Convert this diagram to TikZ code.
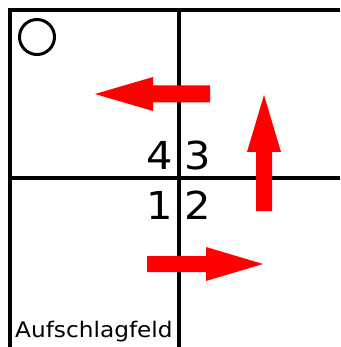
\documentclass[tikz,border=0pt]{standalone}
\usepackage{fontspec}
\setmainfont{DejaVu Sans}[FakeStretch=1.08]
\begin{document}
\begin{tikzpicture}[x=1pt,y=-1pt,
  outer/.style={line width=3.8pt},
  inner/.style={line width=3.2pt},
  redarrow/.style={fill=red,draw=none},
  digit/.style={inner sep=0pt,font=\fontsize{38.5}{38.5}\selectfont},
  label/.style={inner sep=0pt,font=\fontsize{21.5}{21.5}\selectfont}]
\useasboundingbox (0,0) rectangle (340,347);
% grid
\draw[outer] (340,10) -- (10,10) -- (10,347);
\draw[inner] (179,10) -- (179,347);
\draw[inner] (10,178) -- (340,178);
% ball
\draw[line width=3pt] (37,37) circle (17.5);
% arrows
\fill[redarrow] (210,85.5) -- (153,85.5) -- (153,77) -- (95,94) -- (153,111) -- (153,102.5) -- (210,102.5) -- cycle;
\fill[redarrow] (256,211) -- (256,152) -- (247,152) -- (264,95) -- (281,152) -- (272,152) -- (272,211) -- cycle;
\fill[redarrow] (147,256) -- (206,256) -- (206,247) -- (263,264) -- (206,281) -- (206,272) -- (147,272) -- cycle;
% numbers
\node[digit,anchor=base east] (n4) at (173,170) {4};
\node[digit,anchor=base west] (n3) at (184,170) {3};
\node[digit,anchor=base east] (n1) at (173,219) {1};
\node[digit,anchor=base west] (n2) at (184,219) {2};
\node[label,anchor=base west] (auf) at (15,337) {Aufschlagfeld};
\end{tikzpicture}
\end{document}
